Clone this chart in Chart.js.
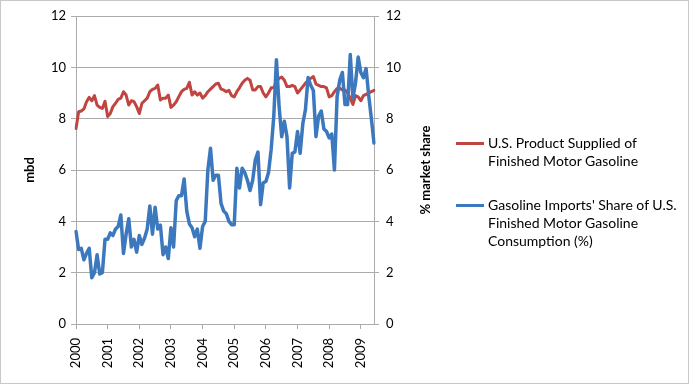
<!DOCTYPE html>
<html>
<head>
<meta charset="utf-8">
<script src="https://cdn.jsdelivr.net/npm/chart.js@4/dist/chart.umd.min.js"></script>
<style>
  html, body { margin: 0; padding: 0; background: #fff; }
  #wrap { position: relative; width: 689px; height: 384px; overflow: hidden; font-family: Lato, "Open Sans", sans-serif; color: #000; }
  #c { position: absolute; left: 0; top: 0; }
  #frame { position: absolute; left: 0; top: 0; width: 689px; height: 384px; box-sizing: border-box; border: 1px solid #c8c8c8; pointer-events: none; }
  #rtitle { position: absolute; left: 425px; top: 170px; transform: translate(-50%, -50%) rotate(-90deg); white-space: nowrap; font-weight: bold; font-size: 13px; }
  .leg { position: absolute; left: 456px; font-size: 14px; line-height: 18px; white-space: nowrap; }
  .leg .sw { position: absolute; left: 0; width: 28px; height: 3px; top: 8px; }
  .leg .tx { position: absolute; left: 32px; top: 0; }
</style>
</head>
<body>
<div id="wrap">
  <canvas id="c" width="689" height="384"></canvas>
  <div id="rtitle"></div>
  <div id="legend"></div>
  <div id="frame"></div>
</div>
<script>
// ---- data ----
const years = ['2000','2001','2002','2003','2004','2005','2006','2007','2008','2009'];
const monthNames = ['Jan','Feb','Mar','Apr','May','Jun','Jul','Aug','Sep','Oct','Nov','Dec'];

// U.S. Product Supplied of Finished Motor Gasoline (mbd), monthly Jan 2000 - Jun 2009
const gasolineSupplied = [
  7.62, 8.27, 8.30, 8.38, 8.66, 8.83, 8.70, 8.90, 8.53, 8.44, 8.40, 8.68,
  8.08, 8.20, 8.47, 8.60, 8.75, 8.80, 9.05, 8.92, 8.53, 8.70, 8.66, 8.47,
  8.20, 8.60, 8.70, 8.80, 9.05, 9.14, 9.18, 9.31, 8.73, 8.80, 8.80, 8.92,
  8.44, 8.53, 8.66, 8.86, 9.05, 9.14, 9.18, 9.42, 8.92, 9.05, 8.92, 9.00,
  8.80, 8.90, 9.05, 9.15, 9.25, 9.35, 9.38, 9.15, 9.12, 9.05, 9.10, 8.90,
  8.85, 9.05, 9.20, 9.38, 9.50, 9.57, 9.50, 9.12, 9.12, 9.25, 9.25, 9.00,
  8.85, 9.00, 9.20, 9.20, 9.44, 9.57, 9.62, 9.50, 9.25, 9.25, 9.30, 9.25,
  9.00, 9.12, 9.25, 9.38, 9.50, 9.57, 9.64, 9.35, 9.30, 9.25, 9.25, 9.20,
  8.85, 8.90, 9.05, 9.18, 9.18, 9.12, 9.12, 9.00, 8.80, 8.55, 8.90, 8.85,
  8.70, 8.90, 8.95, 9.00, 9.05, 9.10
];

// Gasoline Imports' Share of U.S. Finished Motor Gasoline Consumption (%)
const importShare = [
  3.60, 2.90, 2.95, 2.50, 2.75, 2.95, 1.80, 2.00, 2.70, 1.95, 2.00, 3.30,
  3.30, 3.55, 3.45, 3.70, 3.80, 4.25, 2.75, 3.50, 4.10, 3.00, 3.30, 2.80,
  3.45, 3.10, 3.35, 3.70, 4.60, 3.50, 4.55, 3.70, 3.85, 2.70, 3.00, 2.55,
  3.75, 3.00, 4.80, 5.00, 5.00, 5.65, 4.40, 3.90, 3.75, 3.40, 3.70, 2.95,
  3.80, 4.00, 6.00, 6.85, 5.60, 5.80, 5.80, 4.70, 4.40, 4.30, 4.00, 3.87,
  3.87, 6.07, 5.30, 6.07, 5.90, 5.60, 5.20, 5.60, 6.40, 6.70, 4.65, 5.50,
  5.55, 5.90, 6.80, 8.10, 10.30, 8.50, 7.30, 7.90, 7.30, 5.30, 6.65, 6.70,
  7.50, 6.65, 7.80, 8.35, 9.60, 9.30, 9.10, 7.30, 8.10, 8.30, 7.60, 7.50,
  7.25, 7.40, 6.00, 8.85, 9.50, 9.80, 8.55, 8.55, 10.50, 8.80, 9.40, 10.40,
  9.80, 9.60, 9.95, 8.90, 8.00, 7.05
];

const seriesNames = [
  'U.S. Product Supplied of Finished Motor Gasoline',
  "Gasoline Imports' Share of U.S. Finished Motor Gasoline Consumption (%)"
];
const legendLines = [
  ['U.S. Product Supplied of', 'Finished Motor Gasoline'],
  ["Gasoline Imports' Share of U.S.", 'Finished Motor Gasoline', 'Consumption (%)']
];
const leftAxisTitle = 'mbd';
const rightAxisTitle = '% market share';
const yTicks = [0, 2, 4, 6, 8, 10, 12];

const categories = [];
years.forEach(y => monthNames.forEach(m => categories.push(m + ' ' + y)));
categories.length = gasolineSupplied.length;

const RED = '#C0443F';
const BLUE = '#3C78BE';
const GRID = '#ababab';
const FONT = 'Lato, "Open Sans", sans-serif';

// ---- html text ----
document.getElementById('rtitle').textContent = rightAxisTitle;
const legendEl = document.getElementById('legend');
const legTops = [134, 196];
[RED, BLUE].forEach((col, i) => {
  const d = document.createElement('div');
  d.className = 'leg';
  d.style.top = legTops[i] + 'px';
  const sw = document.createElement('div');
  sw.className = 'sw';
  sw.style.background = col;
  d.appendChild(sw);
  const tx = document.createElement('div');
  tx.className = 'tx';
  legendLines[i].forEach((ln, j) => {
    if (j) tx.appendChild(document.createElement('br'));
    tx.appendChild(document.createTextNode(ln));
  });
  d.appendChild(tx);
  legendEl.appendChild(d);
});

// ---- chart ----
new Chart(document.getElementById('c'), {
  type: 'line',
  data: {
    labels: categories,
    datasets: [
      {
        label: seriesNames[0],
        data: gasolineSupplied,
        yAxisID: 'y',
        borderColor: RED,
        borderWidth: 3,
        pointRadius: 0,
        tension: 0,
        borderJoinStyle: 'round',
        borderCapStyle: 'round',
        order: 2
      },
      {
        label: seriesNames[1],
        data: importShare,
        yAxisID: 'y1',
        borderColor: BLUE,
        borderWidth: 3.5,
        pointRadius: 0,
        tension: 0,
        borderJoinStyle: 'round',
        borderCapStyle: 'round',
        order: 1
      }
    ]
  },
  options: {
    responsive: false,
    animation: false,
    events: [],
    layout: { padding: { top: 16, right: 255, bottom: 0, left: 0 } },
    plugins: { legend: { display: false }, tooltip: { enabled: false }, title: { display: false } },
    scales: {
      x: {
        type: 'category',
        offset: false,
        afterFit: s => { s.height = 60; },
        grid: {
          offset: false,
          drawOnChartArea: false,
          drawTicks: true,
          tickLength: 5,
          color: ctx => (ctx.index % 12 === 0 ? GRID : 'rgba(0,0,0,0)')
        },
        border: { display: true, color: GRID },
        ticks: {
          autoSkip: false,
          minRotation: 90,
          maxRotation: 90,
          padding: 9,
          color: '#000',
          font: { family: FONT, size: 13 },
          callback: (v, i) => (i % 12 === 0 ? years[i / 12] : '')
        }
      },
      y: {
        position: 'left',
        min: 0, max: 12,
        afterFit: s => { s.width = 76; },
        afterBuildTicks: s => { s.ticks = yTicks.map(v => ({ value: v })); },
        grid: { color: GRID, drawTicks: true, tickLength: 5 },
        border: { display: true, color: GRID },
        ticks: { padding: 5, color: '#000', font: { family: FONT, size: 13 } },
        title: {
          display: true,
          text: leftAxisTitle,
          color: '#000',
          font: { family: FONT, size: 13, weight: 'bold' },
          padding: { top: 22, bottom: 0 }
        }
      },
      y1: {
        position: 'right',
        min: 0, max: 12,
        afterFit: s => { s.width = 60; },
        afterBuildTicks: s => { s.ticks = yTicks.map(v => ({ value: v })); },
        grid: { drawOnChartArea: false, color: GRID, drawTicks: true, tickLength: 5 },
        border: { display: true, color: GRID },
        ticks: { padding: 7, color: '#000', font: { family: FONT, size: 13 } }
      }
    }
  }
});
</script>
</body>
</html>
